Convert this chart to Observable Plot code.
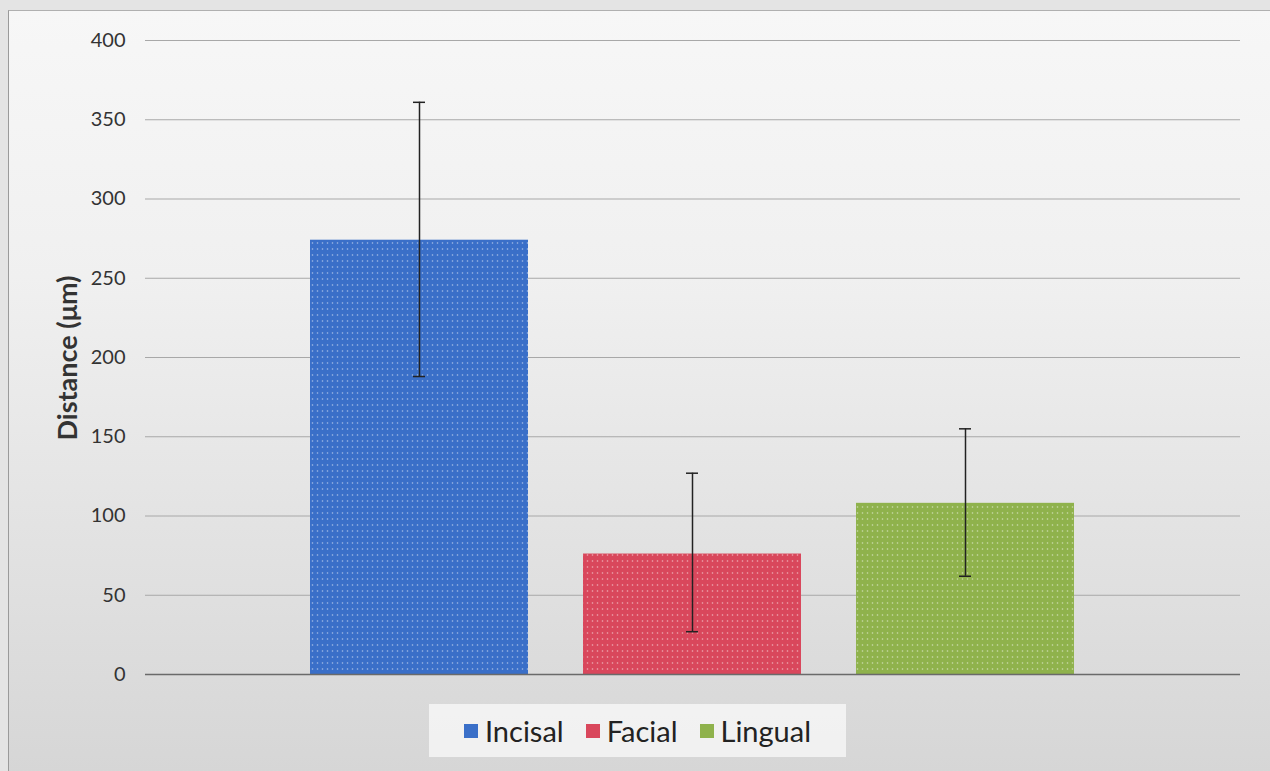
<!DOCTYPE html>
<html>
<head>
<meta charset="utf-8">
<script src="https://cdn.jsdelivr.net/npm/d3@7"></script>
<script src="https://cdn.jsdelivr.net/npm/@observablehq/plot@0.6"></script>
<style>
  html, body { margin: 0; padding: 0; }
  body { width: 1270px; height: 771px; overflow: hidden; background: #e4e4e4; font-family: Lato, "Open Sans", sans-serif; }
  #frame { position: absolute; left: 8px; top: 10px; width: 1262px; height: 761px;
    border-left: 1px solid #9a9a9a; border-top: 1px solid #b0b0b0;
    background: linear-gradient(180deg, #f7f7f7 0%, #f0f0f0 35%, #e2e2e2 70%, #d6d6d6 100%); }
  #chart { position: absolute; left: 0; top: 0; }
  #ylabel { position: absolute; left: 66px; top: 358px; transform: translate(-50%, -50%) rotate(-90deg);
    font-size: 27px; font-weight: bold; color: #333; white-space: nowrap; }
  #legend { position: absolute; left: 429px; top: 704px; width: 417px; height: 53px;
    background: rgba(250,250,250,0.75); display: flex; align-items: center; justify-content: center; gap: 22px;
    font-size: 29px; color: #222; }
  #legend .item { display: flex; align-items: center; gap: 7px; }
  #legend .sw { width: 14px; height: 14px; display: inline-block; }
</style>
</head>
<body>
<div id="frame"></div>
<div id="chart"></div>
<div id="ylabel">Distance (μm)</div>
<div id="legend"></div>
<script>
const categories = ["Incisal", "Facial", "Lingual"];
const means = [274, 76, 108];
const errLow = [188, 27, 62];
const errHigh = [361, 127, 155];
const colors = ["#3a6fc8", "#d9475c", "#8fb24c"];
const yTicks = [0, 50, 100, 150, 200, 250, 300, 350, 400];

const data = categories.map((c, i) => ({cat: c, mean: means[i], lo: errLow[i], hi: errHigh[i]}));

const chart = Plot.plot({
  width: 1270,
  height: 700,
  marginLeft: 145,
  marginRight: 30,
  marginTop: 40,
  marginBottom: 26,
  style: {background: "transparent", fontFamily: "Lato, 'Open Sans', sans-serif"},
  x: {domain: categories, paddingInner: 0.2, paddingOuter: 0.6, axis: null},
  y: {domain: [0, 400], ticks: yTicks, tickSize: 0, tickPadding: 20, label: null},
  color: {domain: categories, range: colors},
  marks: [
    Plot.ruleY(yTicks.filter(d => d > 0), {stroke: "#a8a8a8", strokeWidth: 1}),
    Plot.barY(data, {x: "cat", y: "mean", fill: "cat"}),
    Plot.barY(data, {x: "cat", y: "mean", fill: "url(#dots)"}),
    Plot.ruleY([0], {stroke: "#6a6a6a", strokeWidth: 1.5}),
    Plot.ruleX(data, {x: "cat", y1: "lo", y2: "hi", stroke: "#222", strokeWidth: 1.5}),
    Plot.tickY(data, {x: "cat", y: "lo", stroke: "#222", strokeWidth: 1.5, insetLeft: 103, insetRight: 103}),
    Plot.tickY(data, {x: "cat", y: "hi", stroke: "#222", strokeWidth: 1.5, insetLeft: 103, insetRight: 103}),
    Plot.axisY({ticks: yTicks, tickSize: 0, tickPadding: 20, fontSize: 20, fill: "#333", label: null})
  ]
});
// dotted pattern for bar texture
const ns = "http://www.w3.org/2000/svg";
const defs = document.createElementNS(ns, "defs");
defs.innerHTML = '<pattern id="dots" width="5" height="6" patternUnits="userSpaceOnUse"><circle cx="2.5" cy="3" r="0.8" fill="#ffffff" fill-opacity="0.55"/></pattern>';
chart.insertBefore(defs, chart.firstChild);
document.getElementById("chart").appendChild(chart);

const legend = document.getElementById("legend");
categories.forEach((c, i) => {
  const it = document.createElement("div");
  it.className = "item";
  it.innerHTML = `<span class="sw" style="background:${colors[i]}"></span><span>${c}</span>`;
  legend.appendChild(it);
});
</script>
</body>
</html>
